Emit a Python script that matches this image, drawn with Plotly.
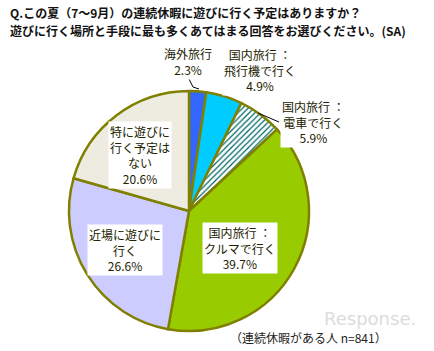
import plotly.graph_objects as go

W, H = 434, 351

categories = ["海外旅行", "国内旅行 ：飛行機で行く", "国内旅行 ：電車で行く",
              "国内旅行 ：クルマで行く", "近場に遊びに行く", "特に遊びに行く予定はない"]
values = [2.3, 4.9, 5.9, 39.7, 26.6, 20.6]
label_texts = ["海外旅行<br>2.3%", "国内旅行 ：<br>飛行機で行く<br>4.9%", "国内旅行 ：<br>電車で行く<br>5.9%",
               "国内旅行 ：<br>クルマで行く<br>39.7%", "近場に遊びに<br>行く<br>26.6%",
               "特に遊びに<br>行く予定は<br>ない<br>20.6%"]
colors = ["#3366FF", "#00CCFF", "#FFFFFF", "#99CC00", "#CCCCFF", "#EEECE1"]
title_lines = ["Q.この夏（7～9月）の連続休暇に遊びに行く予定はありますか？",
               "遊びに行く場所と手段に最も多くあてはまる回答をお選びください。(SA)"]
footer = "（連続休暇がある人 n=841）"
watermark = "Response."

FONT = "Noto Sans CJK JP"

def px(x):
    return x / W

def py(y):
    return 1 - y / H

fig = go.Figure()
fig.add_trace(go.Pie(
    labels=categories, values=values, sort=False, direction="clockwise", rotation=0,
    textinfo="none", hoverinfo="label+percent",
    marker=dict(colors=colors, line=dict(color="#808000", width=2.5),
                pattern=dict(shape=["", "", "/", "", "", ""], fgcolor="#006666",
                             bgcolor="#FFFFFF", size=4, solidity=0.3)),
    domain=dict(x=[px(69), px(309)], y=[py(331), py(91)]),
    showlegend=False,
))

# label positions (pixel centres)
label_pos = [(188, 62), (260, 70), (313, 122), (240, 248), (125, 250), (140, 155)]
annotations = []
annotations.append(dict(x=px(418), y=py(318), xref="paper", yref="paper", text=watermark,
                        showarrow=False, xanchor="right", yanchor="middle",
                        font=dict(family="DejaVu Sans", size=18, color="#DCDCDC")))
for t, (x, y) in zip(label_texts, label_pos):
    annotations.append(dict(x=px(x), y=py(y), xref="paper", yref="paper", text=t,
                            showarrow=False, align="center", xanchor="center", yanchor="middle",
                            font=dict(family=FONT, size=12, color="#222200"),
                            bgcolor="rgba(255,255,255,1)", borderpad=1))

annotations.append(dict(x=px(8), y=py(13), xref="paper", yref="paper", text="<b>" + title_lines[0] + "</b>",
                        showarrow=False, xanchor="left", yanchor="middle",
                        font=dict(family=FONT, size=12, color="#111111")))
annotations.append(dict(x=px(8), y=py(30), xref="paper", yref="paper", text="<b>" + title_lines[1] + "</b>",
                        showarrow=False, xanchor="left", yanchor="middle",
                        font=dict(family=FONT, size=12, color="#111111")))
annotations.append(dict(x=px(228), y=py(337), xref="paper", yref="paper", text=footer,
                        showarrow=False, xanchor="left", yanchor="middle",
                        font=dict(family=FONT, size=12, color="#222222")))

def seg(points):
    path = "M " + " L ".join(f"{px(x)},{py(y)}" for x, y in points)
    return dict(type="path", xref="paper", yref="paper", path=path,
                line=dict(color="#000000", width=1))

shapes = [
    seg([(188, 77), (193, 87), (199, 89)]),
    seg([(233, 71), (226, 71), (226, 92)]),
    seg([(258, 113), (279, 122)]),
]

fig.update_layout(
    width=W, height=H, margin=dict(l=0, r=0, t=0, b=0),
    paper_bgcolor="white", plot_bgcolor="white",
    annotations=annotations, shapes=shapes,
)

fig.write_html("out.html")
